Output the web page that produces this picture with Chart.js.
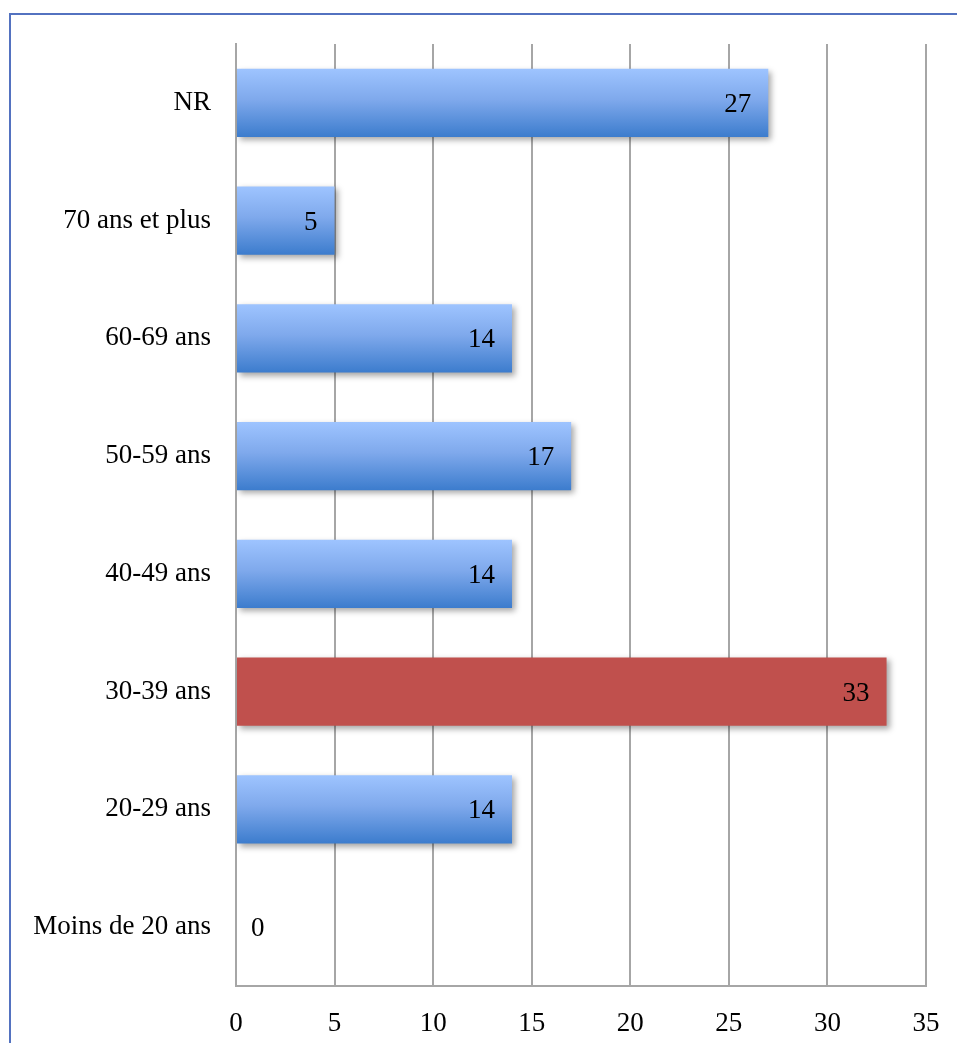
<!DOCTYPE html>
<html>
<head>
<meta charset="utf-8">
<script src="https://cdn.jsdelivr.net/npm/chart.js@4"></script>
<style>
  html, body { margin: 0; padding: 0; background: #fff; }
  #wrap { position: relative; width: 957px; height: 1043px; overflow: hidden; }
  #frame { position: absolute; left: 9px; top: 13px; width: 1000px; height: 1100px;
           border-left: 2px solid #5372c0; border-top: 2px solid #5372c0; }
  #c { position: absolute; left: 0; top: 0; }
</style>
</head>
<body>
<div id="wrap">
  <div id="frame"></div>
  <canvas id="c" width="957" height="1043"></canvas>
</div>
<script>
const categories = ["NR", "70 ans et plus", "60-69 ans", "50-59 ans", "40-49 ans", "30-39 ans", "20-29 ans", "Moins de 20 ans"];
const values = [27, 5, 14, 17, 14, 33, 14, 0];
const highlightIndex = 5;
const xTicks = [0, 5, 10, 15, 20, 25, 30, 35];

const FONT = "'Liberation Serif', 'Times New Roman', serif";
const FSIZE = 27;
const BAR_PCT = 0.58;

function barFill(ctx) {
  if (ctx.dataIndex === highlightIndex) return '#c0504d';
  const chart = ctx.chart;
  const ys = chart.scales && chart.scales.y;
  if (!chart.chartArea || !ys) return '#6a9de8';
  const yc = ys.getPixelForValue(ctx.dataIndex);
  const half = (ys.height / categories.length) * BAR_PCT / 2;
  const g = chart.ctx.createLinearGradient(0, yc - half, 0, yc + half);
  g.addColorStop(0, '#9ec4ff');
  g.addColorStop(0.45, '#7fa9ec');
  g.addColorStop(1, '#3c7ccd');
  return g;
}

const shadowPlugin = {
  id: 'shadow',
  beforeDatasetDraw(chart) {
    const c = chart.ctx;
    c.save();
    c.shadowColor = 'rgba(0,0,0,0.35)';
    c.shadowBlur = 6;
    c.shadowOffsetX = 3;
    c.shadowOffsetY = 3;
  },
  afterDatasetDraw(chart) { chart.ctx.restore(); }
};

const labelPlugin = {
  id: 'barLabels',
  afterDatasetsDraw(chart) {
    const c = chart.ctx;
    const meta = chart.getDatasetMeta(0);
    c.save();
    c.font = FSIZE + 'px ' + FONT;
    c.fillStyle = '#000';
    c.textBaseline = 'middle';
    meta.data.forEach((bar, i) => {
      const v = values[i];
      if (v === 0) {
        c.textAlign = 'left';
        c.fillText(String(v), bar.base + 15, bar.y + 2);
      } else {
        c.textAlign = 'right';
        c.fillText(String(v), bar.x - 17, bar.y + 2);
      }
    });
    c.restore();
  }
};

new Chart(document.getElementById('c'), {
  type: 'bar',
  data: {
    labels: categories,
    datasets: [{
      data: values,
      backgroundColor: barFill,
      borderWidth: 0,
      barPercentage: BAR_PCT,
      categoryPercentage: 1.0
    }]
  },
  options: {
    indexAxis: 'y',
    responsive: false,
    animation: false,
    devicePixelRatio: 1,
    layout: { padding: { top: 44, right: 31, left: 0, bottom: 0 } },
    plugins: { legend: { display: false }, tooltip: { enabled: false } },
    scales: {
      x: {
        min: 0, max: 35,
        afterBuildTicks(scale) { scale.ticks = xTicks.map(v => ({ value: v })); },
        afterFit(scale) { scale.height = 57; scale.paddingLeft = 0; scale.paddingRight = 0; },
        grid: { color: '#a6a6a6', lineWidth: 2, drawTicks: false },
        border: { color: '#a6a6a6', width: 2 },
        ticks: { color: '#000', font: { family: FONT, size: FSIZE }, padding: 22, maxRotation: 0 }
      },
      y: {
        afterFit(scale) { scale.width = 236; scale.paddingTop = 0; scale.paddingBottom = 0; },
        grid: { display: false, drawTicks: false },
        border: { color: '#a6a6a6', width: 2 },
        ticks: { color: '#000', font: { family: FONT, size: FSIZE }, padding: 25 }
      }
    }
  },
  plugins: [shadowPlugin, labelPlugin]
});
</script>
</body>
</html>
